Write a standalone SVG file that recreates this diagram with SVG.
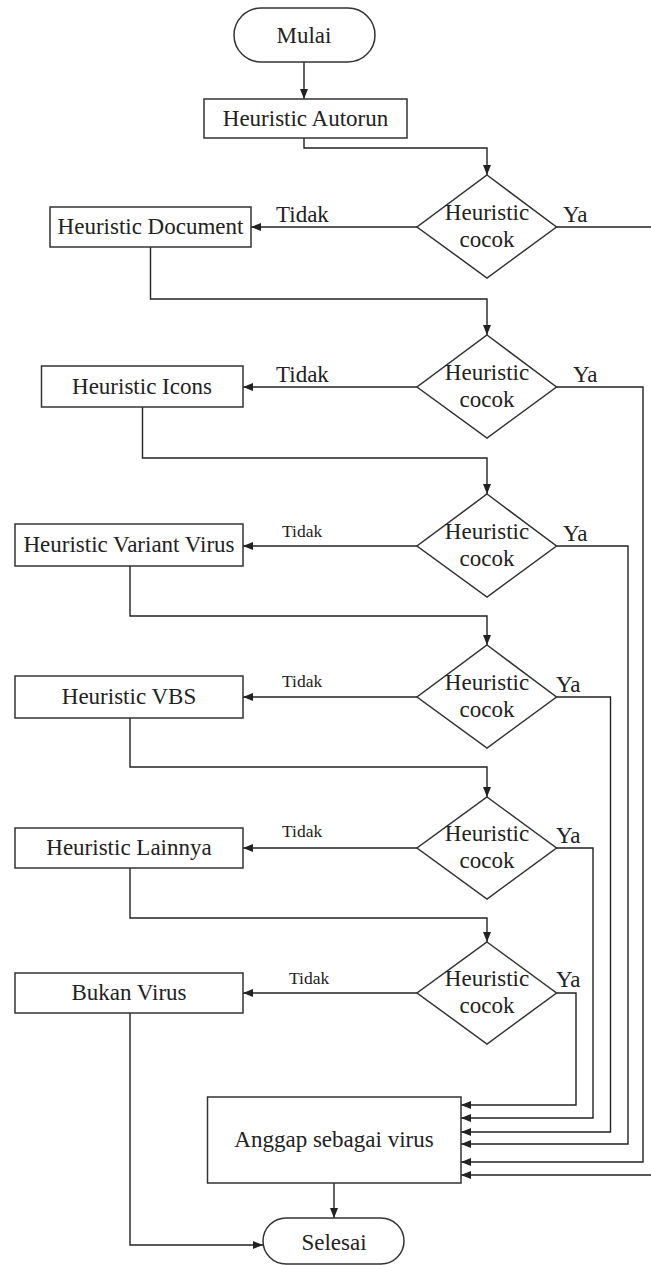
<svg xmlns="http://www.w3.org/2000/svg" width="651" height="1265" viewBox="0 0 651 1265">
<defs>
<marker id="ah" markerUnits="userSpaceOnUse" markerWidth="10" markerHeight="10" viewBox="0 0 10 10" refX="10" refY="5" orient="auto">
<path d="M0,1 L10,5 L0,9 Z" fill="#222"/>
</marker>
</defs>
<style>
.shape{fill:#fff;stroke:#333;stroke-width:1.5}
.t{font-family:"Liberation Serif","Times New Roman",serif;font-size:23px;fill:#222;text-anchor:middle}
.lb{font-family:"Liberation Serif","Times New Roman",serif;font-size:23px;fill:#222}
.ls{font-family:"Liberation Serif","Times New Roman",serif;font-size:17.5px;fill:#222}
.c{fill:none;stroke:#222;stroke-width:1.4}
</style>
<rect width="651" height="1265" fill="#fff"/>
<g id="connectors">
<path class="c" d="M304,62 V99" marker-end="url(#ah)"/>
<path class="c" d="M304,138 V148 H487 V175" marker-end="url(#ah)"/>
<path class="c" d="M417,227 H251" marker-end="url(#ah)"/>
<path class="c" d="M556,227 H653 V1175 H461" marker-end="url(#ah)"/>
<path class="c" d="M150.5,247 V299 H487 V335" marker-end="url(#ah)"/>
<path class="c" d="M417,387 H243" marker-end="url(#ah)"/>
<path class="c" d="M556,387 H643 V1162 H461" marker-end="url(#ah)"/>
<path class="c" d="M142.5,407 V458 H487 V494" marker-end="url(#ah)"/>
<path class="c" d="M417,546 H243" marker-end="url(#ah)"/>
<path class="c" d="M556,546 H628 V1144 H461" marker-end="url(#ah)"/>
<path class="c" d="M130,566 V616 H487 V645" marker-end="url(#ah)"/>
<path class="c" d="M417,697 H243" marker-end="url(#ah)"/>
<path class="c" d="M556,697 H610.5 V1132 H461" marker-end="url(#ah)"/>
<path class="c" d="M130,718 V767 H487 V797" marker-end="url(#ah)"/>
<path class="c" d="M417,848 H243" marker-end="url(#ah)"/>
<path class="c" d="M556,848 H593 V1118 H461" marker-end="url(#ah)"/>
<path class="c" d="M130,868 V918 H487 V942" marker-end="url(#ah)"/>
<path class="c" d="M417,993 H243" marker-end="url(#ah)"/>
<path class="c" d="M556,993 H576 V1105 H461" marker-end="url(#ah)"/>
<path class="c" d="M130,1013 V1245 H263" marker-end="url(#ah)"/>
<path class="c" d="M334,1183 V1218" marker-end="url(#ah)"/>
<text class="lb" x="276" y="222">Tidak</text>
<text class="lb" x="563" y="222">Ya</text>
<text class="lb" x="276" y="382">Tidak</text>
<text class="lb" x="573" y="382">Ya</text>
<text class="ls" x="282" y="537">Tidak</text>
<text class="lb" x="563" y="541">Ya</text>
<text class="ls" x="282" y="687">Tidak</text>
<text class="lb" x="556" y="692">Ya</text>
<text class="ls" x="282" y="837">Tidak</text>
<text class="lb" x="556" y="843">Ya</text>
<text class="ls" x="289" y="984">Tidak</text>
<text class="lb" x="556" y="987">Ya</text>
</g>
<g id="mulai"><rect class="shape" x="234" y="8" width="141" height="54" rx="27"/><text class="t" x="304" y="43">Mulai</text></g>
<g id="autorun"><rect class="shape" x="204" y="99" width="203" height="39"/><text class="t" x="305.5" y="126">Heuristic Autorun</text></g>
<g id="document"><rect class="shape" x="50" y="207" width="201" height="40"/><text class="t" x="150.5" y="234">Heuristic Document</text></g>
<g id="icons"><rect class="shape" x="41.5" y="366" width="201.5" height="41"/><text class="t" x="142" y="394">Heuristic Icons</text></g>
<g id="variant"><rect class="shape" x="15" y="524" width="228" height="42"/><text class="t" x="129" y="552">Heuristic Variant Virus</text></g>
<g id="vbs"><rect class="shape" x="15" y="676" width="228" height="42"/><text class="t" x="129" y="704">Heuristic VBS</text></g>
<g id="lainnya"><rect class="shape" x="15" y="828" width="228" height="40"/><text class="t" x="129" y="855">Heuristic Lainnya</text></g>
<g id="bukan"><rect class="shape" x="15" y="973" width="228" height="40"/><text class="t" x="129" y="1000">Bukan Virus</text></g>
<g id="d1"><path class="shape" d="M487,175 L556.5,227 L487,278 L417,227 Z"/><text class="t" x="487" y="220">Heuristic</text><text class="t" x="487" y="247">cocok</text></g>
<g id="d2"><path class="shape" d="M487,335 L556.5,387 L487,438 L417,387 Z"/><text class="t" x="487" y="380">Heuristic</text><text class="t" x="487" y="407">cocok</text></g>
<g id="d3"><path class="shape" d="M487,494 L556.5,546 L487,597 L417,546 Z"/><text class="t" x="487" y="539">Heuristic</text><text class="t" x="487" y="566">cocok</text></g>
<g id="d4"><path class="shape" d="M487,645 L556.5,697 L487,748 L417,697 Z"/><text class="t" x="487" y="690">Heuristic</text><text class="t" x="487" y="717">cocok</text></g>
<g id="d5"><path class="shape" d="M487,797 L556.5,848 L487,899 L417,848 Z"/><text class="t" x="487" y="841">Heuristic</text><text class="t" x="487" y="868">cocok</text></g>
<g id="d6"><path class="shape" d="M487,942 L556.5,993 L487,1044 L417,993 Z"/><text class="t" x="487" y="986">Heuristic</text><text class="t" x="487" y="1013">cocok</text></g>
<g id="anggap"><rect class="shape" x="207.5" y="1097" width="253.5" height="86"/><text class="t" x="334" y="1147">Anggap sebagai virus</text></g>
<g id="selesai"><rect class="shape" x="263" y="1218" width="141" height="46" rx="23"/><text class="t" x="334" y="1250">Selesai</text></g>
</svg>
